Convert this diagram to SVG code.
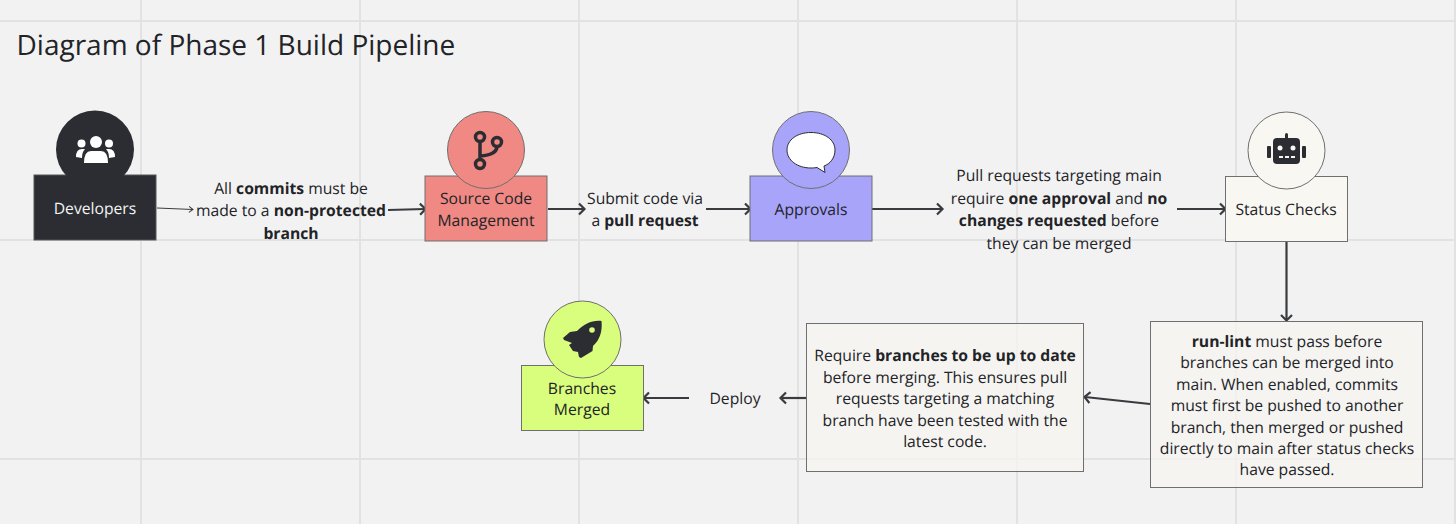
<svg xmlns="http://www.w3.org/2000/svg" width="1456" height="524" viewBox="0 0 1456 524">
<style>
text{font-family:"Open Sans","Noto Sans",sans-serif;font-size:15.7px;fill:#222327;text-anchor:middle;text-rendering:geometricPrecision}
.b{font-weight:700}
.grid line{stroke:#e2e2e2;stroke-width:2}
.c{stroke:#3a3b3f;stroke-width:2.200;fill:none;marker-end:url(#a)}
.thin{stroke-width:1}
.n{stroke:#6f6f6f;stroke-width:1}
</style>
<defs>
<marker id="a" markerUnits="userSpaceOnUse" markerWidth="14" markerHeight="14" refX="9" refY="7" orient="auto"><path d="M4 1.500L9.500 7L4 12.500" fill="none" stroke="#3a3b3f" stroke-width="2.200"/></marker>
<marker id="t" markerUnits="userSpaceOnUse" markerWidth="10" markerHeight="10" refX="7" refY="5" orient="auto"><path d="M3 2L7 5L3 8" fill="none" stroke="#3a3b3f" stroke-width="1"/></marker>
</defs>
<rect width="1456" height="524" fill="#f2f2f2"/>
<g class="grid">
<line x1="141" y1="0" x2="141" y2="524"/><line x1="360" y1="0" x2="360" y2="524"/><line x1="579" y1="0" x2="579" y2="524"/><line x1="798" y1="0" x2="798" y2="524"/><line x1="1017" y1="0" x2="1017" y2="524"/><line x1="1236" y1="0" x2="1236" y2="524"/><line x1="1455" y1="0" x2="1455" y2="524"/>
<line x1="0" y1="21" x2="1456" y2="21"/><line x1="0" y1="240" x2="1456" y2="240"/><line x1="0" y1="459" x2="1456" y2="459"/>
</g>
<text x="16.500" y="55" style="font-size:28px;text-anchor:start">Diagram of Phase 1 Build Pipeline</text>
<g id="connectors">
<path d="M157 208L193 209.500" class="c thin" style="marker-end:url(#t)"/>
<path d="M388 210L425 209" class="c"/>
<path d="M548 209L584 209" class="c"/>
<path d="M706 209L750 209" class="c"/>
<path d="M872 209L942 209" class="c"/>
<path d="M1177 209L1225 209" class="c"/>
<path d="M1286.500 242L1286.500 320" class="c"/>
<path d="M1150 404L1085 397" class="c"/>
<path d="M806 398L781 398" class="c"/>
<path d="M689 398L644 398" class="c"/>
</g>
<g id="developers">
<rect x="34" y="175" width="122" height="65" fill="#2b2d32" stroke="#55565a"/>
<circle cx="95" cy="149.500" r="39" fill="#2b2d32"/>
<g fill="#fff"><circle cx="96" cy="142" r="6"/><circle cx="81.500" cy="143.500" r="4"/><circle cx="109" cy="143.500" r="4"/>
<path d="M76 157Q76 149 82 149L85 149Q82 152 82 158ZM115 157Q115 149 109 149L106 149Q109 152 109 158ZM84 163Q84 151 91 151L101 151Q108 151 108 163Z"/></g>
<text x="95" y="214" style="fill:#f4f4f4">Developers</text>
</g>
<g id="source-code">
<rect x="425" y="176" width="122" height="65" fill="#f08883" class="n"/>
<circle cx="486" cy="150" r="38.500" fill="#f08883" class="n"/>
<g fill="none" stroke="#2b2d32" stroke-width="3.500"><circle cx="480" cy="137" r="4.500"/><circle cx="497" cy="142" r="4.500"/><circle cx="480" cy="164" r="4.500"/><path d="M480 141V160M480 156Q497 155 497 146"/></g>
<text x="486" y="204">Source Code</text><text x="486" y="226">Management</text>
</g>
<g id="approvals">
<rect x="750" y="176" width="122" height="65" fill="#a8a4fa" class="n"/>
<circle cx="811" cy="150" r="38.500" fill="#a8a4fa" class="n"/>
<path d="M811 132.500C825 132.500 835 140 835 150C835 158 830 164 824 166L825 172.500L817 167.500C814 168 812 168 811 168C797 168 787 160 787 150C787 140 797 132.500 811 132.500Z" fill="#fff" stroke="#2b2d32"/>
<text x="811" y="215">Approvals</text>
</g>
<g id="status-checks">
<rect x="1225.500" y="176.500" width="122" height="65" fill="#f9f7f2" class="n"/>
<circle cx="1286.500" cy="150.500" r="38.500" fill="#f9f7f2" class="n"/>
<g fill="#2b2d32"><rect x="1273" y="138" width="27" height="26" rx="4"/><rect x="1285" y="133" width="3" height="7" rx="1.500"/><rect x="1267" y="146" width="4" height="12" rx="1"/><rect x="1302" y="146" width="4" height="12" rx="1"/></g>
<g fill="#f9f7f2"><circle cx="1280" cy="148" r="2.500"/><circle cx="1293" cy="148" r="2.500"/><rect x="1279" y="156" width="4" height="2"/><rect x="1285" y="156" width="4" height="2"/><rect x="1291" y="156" width="4" height="2"/></g>
<text x="1286" y="215">Status Checks</text>
</g>
<g id="branches-merged">
<rect x="521.500" y="365.500" width="122" height="65" fill="#d9fd7c" class="n"/>
<circle cx="582.500" cy="339.500" r="38.500" fill="#d9fd7c" class="n"/>
<path d="M601.500 321C602.500 331 600 340 593 346L592.500 351L581 358L579 357L578 352L573 351L569 345L572 343L564 340L563 338L570 332L577 331C584 324 592 320 601.500 321Z" fill="#2b2d32"/>
<circle cx="592" cy="330" r="2.800" fill="#d9fd7c"/>
<text x="582" y="394">Branches</text><text x="582" y="415">Merged</text>
</g>
<g id="label-commits">
<text x="291" y="194">All <tspan class="b">commits</tspan> must be</text>
<text x="291" y="216">made to a <tspan class="b">non-protected</tspan></text>
<text x="291" y="239" class="b">branch</text>
</g>
<g id="label-pr">
<text x="645" y="204">Submit code via</text>
<text x="645" y="226">a <tspan class="b">pull request</tspan></text>
</g>
<g id="label-approval">
<text x="1059" y="181">Pull requests targeting main</text>
<text x="1059" y="204">require <tspan class="b">one approval</tspan> and <tspan class="b">no</tspan></text>
<text x="1059" y="226"><tspan class="b">changes requested</tspan> before</text>
<text x="1059" y="249">they can be merged</text>
</g>
<g id="box-lint">
<rect x="1150.500" y="321.500" width="272" height="166" fill="#f5f4f0" fill-opacity=".8" class="n"/>
<text x="1287" y="347"><tspan class="b">run-lint</tspan> must pass before</text>
<text x="1287" y="368">branches can be merged into</text>
<text x="1287" y="390">main. When enabled, commits</text>
<text x="1287" y="411">must first be pushed to another</text>
<text x="1287" y="433">branch, then merged or pushed</text>
<text x="1287" y="454">directly to main after status checks</text>
<text x="1287" y="475">have passed.</text>
</g>
<g id="box-uptodate">
<rect x="806.500" y="323.500" width="277" height="148" fill="#f5f4f0" fill-opacity=".8" class="n"/>
<text x="945" y="361">Require <tspan class="b">branches to be up to date</tspan></text>
<text x="945" y="383">before merging. This ensures pull</text>
<text x="945" y="404">requests targeting a matching</text>
<text x="945" y="426">branch have been tested with the</text>
<text x="945" y="447">latest code.</text>
</g>
<g id="label-deploy"><text x="735" y="404">Deploy</text></g>
</svg>
